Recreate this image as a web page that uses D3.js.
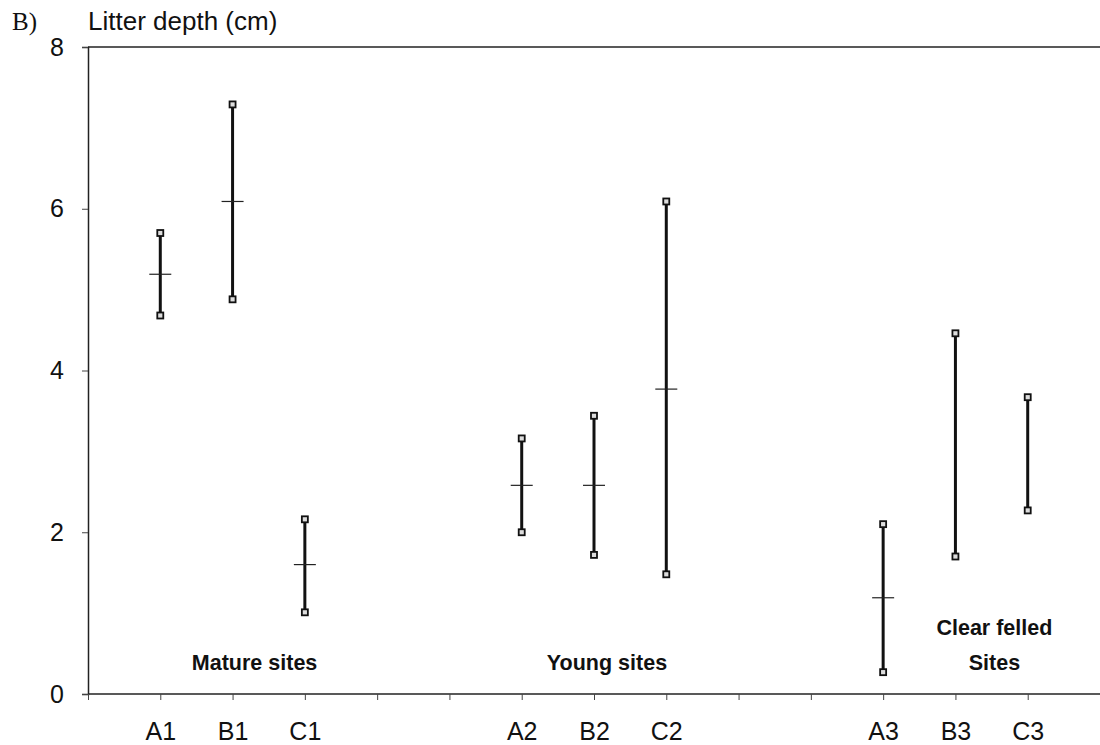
<html>
<head>
<title>Litter depth</title>
<style type="text/css">
* { margin: 0; padding: 0; }
body { background: #fff; }
text { font-family: "Liberation Sans", Arial, sans-serif; fill: #111; }
text.panel { font-family: "Liberation Serif", serif; }
text.group { font-weight: bold; }
</style>
<script type="text/javascript" src="https://cdn.jsdelivr.net/npm/d3@7/dist/d3.min.js"></script>
<script type="text/javascript">
// slots along the x axis, blanks are the gaps between site groups
var slots = ["s0", "A1", "B1", "C1", "s4", "s5", "A2", "B2", "C2", "s9", "s10", "A3", "B3", "C3", "s14"];
var sites = ["A1", "B1", "C1", "A2", "B2", "C2", "A3", "B3", "C3"];
var lows  = [4.68, 4.88, 1.01, 2.00, 1.72, 1.48, 0.27, 1.70, 2.27];
var means = [5.19, 6.09, 1.60, 2.58, 2.58, 3.77, 1.19, null, null];
var highs = [5.70, 7.29, 2.16, 3.16, 3.44, 6.09, 2.10, 4.46, 3.67];
var yTicks = [0, 2, 4, 6, 8];
var groupNames = [["Mature sites"], ["Young sites"], ["Clear felled", "Sites"]];
var groupAt = ["B1", "B2", "B3"];

window.onload = function() {
  var W = 1100, H = 745;
  var left = 88, top = 47, bottom = 694;

  var svg = d3.select("#chart").append("svg")
    .attr("width", W).attr("height", H);

  var x = d3.scalePoint().domain(slots).range([left, W]);
  var y = d3.scaleLinear().domain([0, 8]).range([bottom, top]);

  // titles
  svg.append("text").attr("class", "panel")
    .attr("x", 12).attr("y", 30).attr("font-size", 25).text("B)");
  svg.append("text")
    .attr("x", 88).attr("y", 30).attr("font-size", 26).text("Litter depth (cm)");

  // top frame line
  svg.append("line").attr("x1", left).attr("x2", W).attr("y1", top).attr("y2", top)
    .attr("stroke", "#222").attr("stroke-width", 1.5);

  var yAxis = d3.axisLeft(y).tickValues(yTicks).tickSize(6).tickPadding(18);
  var gy = svg.append("g").attr("transform", "translate(" + left + ",0)").call(yAxis);
  gy.select(".domain").attr("stroke", "#222").attr("stroke-width", 1.5);
  gy.selectAll(".tick line").attr("stroke", "#444");
  gy.selectAll(".tick text").attr("font-size", 25).attr("fill", "#111")
    .attr("font-family", "Liberation Sans, Arial, sans-serif");

  var xAxis = d3.axisBottom(x)
    .tickValues(slots.slice(0, slots.length - 1))
    .tickSize(6).tickPadding(22)
    .tickFormat(function(d) { return d.charAt(0) == "s" ? "" : d; });
  var gx = svg.append("g").attr("transform", "translate(0," + bottom + ")").call(xAxis);
  gx.select(".domain").attr("stroke", "#222").attr("stroke-width", 1.5)
    .attr("d", "M" + left + ",0H" + W);
  gx.selectAll(".tick line").attr("stroke", "#444");
  gx.selectAll(".tick text").attr("font-size", 25).attr("fill", "#111")
    .attr("font-family", "Liberation Sans, Arial, sans-serif");

  // range bars
  for (var i = 0; i < sites.length; i++) {
    var cx = x(sites[i]);
    svg.append("line")
      .attr("x1", cx).attr("x2", cx)
      .attr("y1", y(highs[i])).attr("y2", y(lows[i]))
      .attr("stroke", "#111").attr("stroke-width", 3);
    [lows[i], highs[i]].forEach(function(v) {
      svg.append("rect")
        .attr("x", cx - 3).attr("y", y(v) - 3)
        .attr("width", 6).attr("height", 6)
        .attr("fill", "#ddd").attr("stroke", "#111").attr("stroke-width", 1.8);
    });
    if (means[i] != null) {
      svg.append("line")
        .attr("x1", cx - 11).attr("x2", cx + 11)
        .attr("y1", y(means[i])).attr("y2", y(means[i]))
        .attr("stroke", "#222").attr("stroke-width", 1.2);
    }
  }

  // group labels
  var offs = [22, 13, 39];
  for (var g = 0; g < groupNames.length; g++) {
    var lines = groupNames[g];
    for (var j = 0; j < lines.length; j++) {
      svg.append("text").attr("class", "group")
        .attr("x", x(groupAt[g]) + offs[g])
        .attr("y", 670 - (lines.length - 1 - j) * 35)
        .attr("text-anchor", "middle")
        .attr("font-size", 21.5)
        .text(lines[j]);
    }
  }
};
</script>
</head>
<body>
  <div id="chart"></div>
</body>
</html>
